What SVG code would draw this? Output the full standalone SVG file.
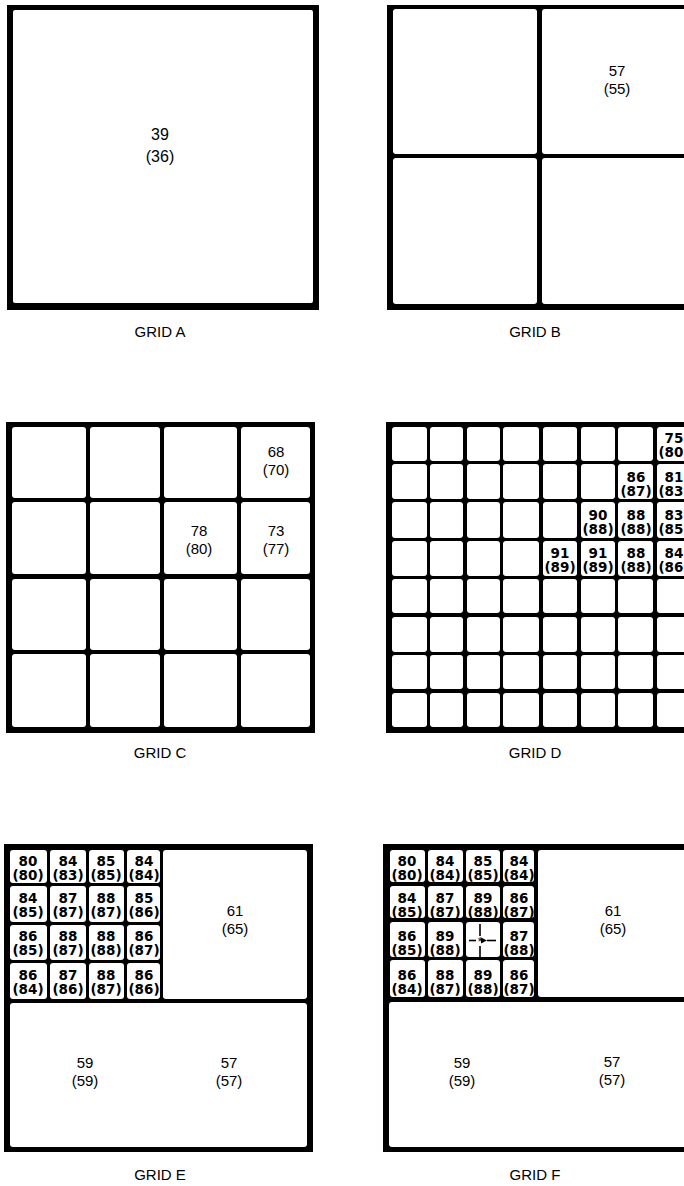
<svg xmlns="http://www.w3.org/2000/svg" width="684" height="1186" viewBox="0 0 684 1186">
<style>
.bg{fill:#000}
.c{fill:#fff}
text{fill:#000;text-anchor:middle}
.lg{font-family:"Liberation Sans",Arial,sans-serif;font-size:16px}
.md{font-family:"Liberation Sans",Arial,sans-serif;font-size:15px}
.sm{font-family:"DejaVu Sans",sans-serif;font-size:13.5px;font-weight:bold}
.lbl{font-family:"Liberation Sans",Arial,sans-serif;font-size:15px}
.ln{stroke:#000;stroke-width:1.6;fill:none}
</style>
<defs>
<marker id="ah" viewBox="0 0 6 6" refX="0" refY="3" markerWidth="4" markerHeight="4" orient="auto"><path d="M6,0 L0,3 L6,6 z" fill="#000"/></marker>
</defs>
<rect width="684" height="1186" fill="#fff"/>

<g id="gridA">
<rect class="bg" x="7" y="5" width="312" height="305"/>
<rect class="c" x="13" y="10" width="300" height="293" rx="2"/>
<text class="lg" x="160" y="140">39</text>
<text class="lg" x="160" y="162">(36)</text>
<text class="lbl" x="160" y="337">GRID A</text>
</g>

<g id="gridB">
<rect class="bg" x="387" y="5" width="310" height="305"/>
<rect class="c" x="393" y="9" width="144" height="145" rx="3"/>
<rect class="c" x="542" y="9" width="158" height="145" rx="3"/>
<rect class="c" x="393" y="158" width="144" height="146" rx="3"/>
<rect class="c" x="542" y="158" width="158" height="146" rx="3"/>
<text class="md" x="617" y="76">57</text>
<text class="md" x="617" y="94">(55)</text>
<text class="lbl" x="535" y="337">GRID B</text>
</g>

<g id="gridC">
<rect class="bg" x="6" y="422" width="309" height="311"/>
<g class="c">
<rect x="12" y="427" width="74" height="71" rx="3"/><rect x="90" y="427" width="70" height="71" rx="3"/><rect x="164" y="427" width="73" height="71" rx="3"/><rect x="241" y="427" width="69" height="71" rx="3"/>
<rect x="12" y="502" width="74" height="72" rx="3"/><rect x="90" y="502" width="70" height="72" rx="3"/><rect x="164" y="502" width="73" height="72" rx="3"/><rect x="241" y="502" width="69" height="72" rx="3"/>
<rect x="12" y="579" width="74" height="71" rx="3"/><rect x="90" y="579" width="70" height="71" rx="3"/><rect x="164" y="579" width="73" height="71" rx="3"/><rect x="241" y="579" width="69" height="71" rx="3"/>
<rect x="12" y="654" width="74" height="73" rx="3"/><rect x="90" y="654" width="70" height="73" rx="3"/><rect x="164" y="654" width="73" height="73" rx="3"/><rect x="241" y="654" width="69" height="73" rx="3"/>
</g>
<text class="md" x="276" y="457">68</text>
<text class="md" x="276" y="475">(70)</text>
<text class="md" x="199" y="536">78</text>
<text class="md" x="199" y="554">(80)</text>
<text class="md" x="276" y="536">73</text>
<text class="md" x="276" y="554">(77)</text>
<text class="lbl" x="160" y="758">GRID C</text>
</g>

<g id="gridD">
<rect class="bg" x="386" y="422" width="310" height="311"/>
<g class="c">
<rect x="392" y="427" width="35" height="34" rx="3"/><rect x="430" y="427" width="33" height="34" rx="3"/><rect x="467" y="427" width="33" height="34" rx="3"/><rect x="503" y="427" width="36" height="34" rx="3"/><rect x="543" y="427" width="34" height="34" rx="3"/><rect x="581" y="427" width="34" height="34" rx="3"/><rect x="618" y="427" width="35" height="34" rx="3"/><rect x="657" y="427" width="38" height="34" rx="3"/>
<rect x="392" y="464" width="35" height="35" rx="3"/><rect x="430" y="464" width="33" height="35" rx="3"/><rect x="467" y="464" width="33" height="35" rx="3"/><rect x="503" y="464" width="36" height="35" rx="3"/><rect x="543" y="464" width="34" height="35" rx="3"/><rect x="581" y="464" width="34" height="35" rx="3"/><rect x="618" y="464" width="35" height="35" rx="3"/><rect x="657" y="464" width="38" height="35" rx="3"/>
<rect x="392" y="502" width="35" height="36" rx="3"/><rect x="430" y="502" width="33" height="36" rx="3"/><rect x="467" y="502" width="33" height="36" rx="3"/><rect x="503" y="502" width="36" height="36" rx="3"/><rect x="543" y="502" width="34" height="36" rx="3"/><rect x="581" y="502" width="34" height="36" rx="3"/><rect x="618" y="502" width="35" height="36" rx="3"/><rect x="657" y="502" width="38" height="36" rx="3"/>
<rect x="392" y="541" width="35" height="35" rx="3"/><rect x="430" y="541" width="33" height="35" rx="3"/><rect x="467" y="541" width="33" height="35" rx="3"/><rect x="503" y="541" width="36" height="35" rx="3"/><rect x="543" y="541" width="34" height="35" rx="3"/><rect x="581" y="541" width="34" height="35" rx="3"/><rect x="618" y="541" width="35" height="35" rx="3"/><rect x="657" y="541" width="38" height="35" rx="3"/>
<rect x="392" y="579" width="35" height="34" rx="3"/><rect x="430" y="579" width="33" height="34" rx="3"/><rect x="467" y="579" width="33" height="34" rx="3"/><rect x="503" y="579" width="36" height="34" rx="3"/><rect x="543" y="579" width="34" height="34" rx="3"/><rect x="581" y="579" width="34" height="34" rx="3"/><rect x="618" y="579" width="35" height="34" rx="3"/><rect x="657" y="579" width="38" height="34" rx="3"/>
<rect x="392" y="617" width="35" height="35" rx="3"/><rect x="430" y="617" width="33" height="35" rx="3"/><rect x="467" y="617" width="33" height="35" rx="3"/><rect x="503" y="617" width="36" height="35" rx="3"/><rect x="543" y="617" width="34" height="35" rx="3"/><rect x="581" y="617" width="34" height="35" rx="3"/><rect x="618" y="617" width="35" height="35" rx="3"/><rect x="657" y="617" width="38" height="35" rx="3"/>
<rect x="392" y="655" width="35" height="34" rx="3"/><rect x="430" y="655" width="33" height="34" rx="3"/><rect x="467" y="655" width="33" height="34" rx="3"/><rect x="503" y="655" width="36" height="34" rx="3"/><rect x="543" y="655" width="34" height="34" rx="3"/><rect x="581" y="655" width="34" height="34" rx="3"/><rect x="618" y="655" width="35" height="34" rx="3"/><rect x="657" y="655" width="38" height="34" rx="3"/>
<rect x="392" y="693" width="35" height="34" rx="3"/><rect x="430" y="693" width="33" height="34" rx="3"/><rect x="467" y="693" width="33" height="34" rx="3"/><rect x="503" y="693" width="36" height="34" rx="3"/><rect x="543" y="693" width="34" height="34" rx="3"/><rect x="581" y="693" width="34" height="34" rx="3"/><rect x="618" y="693" width="35" height="34" rx="3"/><rect x="657" y="693" width="38" height="34" rx="3"/>
</g>
<g class="sm">
<text x="674" y="443">75</text><text x="674" y="457">(80)</text>
<text x="636" y="482">86</text><text x="636" y="496">(87)</text>
<text x="674" y="482">81</text><text x="674" y="496">(83)</text>
<text x="598" y="520">90</text><text x="598" y="534">(88)</text>
<text x="636" y="520">88</text><text x="636" y="534">(88)</text>
<text x="674" y="520">83</text><text x="674" y="534">(85)</text>
<text x="560" y="558">91</text><text x="560" y="572">(89)</text>
<text x="598" y="558">91</text><text x="598" y="572">(89)</text>
<text x="636" y="558">88</text><text x="636" y="572">(88)</text>
<text x="674" y="558">84</text><text x="674" y="572">(86)</text>
</g>
<text class="lbl" x="535" y="758">GRID D</text>
</g>

<g id="gridE">
<rect class="bg" x="4" y="844" width="309" height="308"/>
<g class="c">
<rect x="10" y="850" width="37" height="33" rx="3"/><rect x="50" y="850" width="36" height="33" rx="3"/><rect x="89" y="850" width="35" height="33" rx="3"/><rect x="127" y="850" width="33" height="33" rx="3"/>
<rect x="10" y="886" width="37" height="36" rx="3"/><rect x="50" y="886" width="36" height="36" rx="3"/><rect x="89" y="886" width="35" height="36" rx="3"/><rect x="127" y="886" width="33" height="36" rx="3"/>
<rect x="10" y="925" width="37" height="35" rx="3"/><rect x="50" y="925" width="36" height="35" rx="3"/><rect x="89" y="925" width="35" height="35" rx="3"/><rect x="127" y="925" width="33" height="35" rx="3"/>
<rect x="10" y="963" width="37" height="36" rx="3"/><rect x="50" y="963" width="36" height="36" rx="3"/><rect x="89" y="963" width="35" height="36" rx="3"/><rect x="127" y="963" width="33" height="36" rx="3"/>
<rect x="163" y="850" width="144" height="149" rx="3"/>
<rect x="10" y="1003" width="297" height="144" rx="3"/>
</g>
<g class="sm">
<text x="28" y="866">80</text><text x="28" y="880">(80)</text>
<text x="68" y="866">84</text><text x="68" y="880">(83)</text>
<text x="106" y="866">85</text><text x="106" y="880">(85)</text>
<text x="144" y="866">84</text><text x="144" y="880">(84)</text>
<text x="28" y="903">84</text><text x="28" y="917">(85)</text>
<text x="68" y="903">87</text><text x="68" y="917">(87)</text>
<text x="106" y="903">88</text><text x="106" y="917">(87)</text>
<text x="144" y="903">85</text><text x="144" y="917">(86)</text>
<text x="28" y="941">86</text><text x="28" y="955">(85)</text>
<text x="68" y="941">88</text><text x="68" y="955">(87)</text>
<text x="106" y="941">88</text><text x="106" y="955">(88)</text>
<text x="144" y="941">86</text><text x="144" y="955">(87)</text>
<text x="28" y="980">86</text><text x="28" y="994">(84)</text>
<text x="68" y="980">87</text><text x="68" y="994">(86)</text>
<text x="106" y="980">88</text><text x="106" y="994">(87)</text>
<text x="144" y="980">86</text><text x="144" y="994">(86)</text>
</g>
<text class="md" x="235" y="916">61</text>
<text class="md" x="235" y="934">(65)</text>
<text class="md" x="85" y="1068">59</text>
<text class="md" x="85" y="1086">(59)</text>
<text class="md" x="229" y="1068">57</text>
<text class="md" x="229" y="1086">(57)</text>
<text class="lbl" x="160" y="1180">GRID E</text>
</g>

<g id="gridF">
<rect class="bg" x="383" y="844" width="312" height="308"/>
<g class="c">
<rect x="390" y="850" width="35" height="32" rx="3"/><rect x="428" y="850" width="35" height="32" rx="3"/><rect x="466" y="850" width="34" height="32" rx="3"/><rect x="503" y="850" width="31" height="32" rx="3"/>
<rect x="390" y="886" width="35" height="32" rx="3"/><rect x="428" y="886" width="35" height="32" rx="3"/><rect x="466" y="886" width="34" height="32" rx="3"/><rect x="503" y="886" width="31" height="32" rx="3"/>
<rect x="390" y="922" width="35" height="35" rx="3"/><rect x="428" y="922" width="35" height="35" rx="3"/><rect x="466" y="922" width="34" height="35" rx="3"/><rect x="503" y="922" width="31" height="35" rx="3"/>
<rect x="390" y="960" width="35" height="37" rx="3"/><rect x="428" y="960" width="35" height="37" rx="3"/><rect x="466" y="960" width="34" height="37" rx="3"/><rect x="503" y="960" width="31" height="37" rx="3"/>
<rect x="538" y="850" width="160" height="147" rx="3"/>
<rect x="389" y="1002" width="309" height="145" rx="3"/>
</g>
<g class="sm">
<text x="407" y="866">80</text><text x="407" y="880">(80)</text>
<text x="445" y="866">84</text><text x="445" y="880">(84)</text>
<text x="483" y="866">85</text><text x="483" y="880">(85)</text>
<text x="519" y="866">84</text><text x="519" y="880">(84)</text>
<text x="407" y="903">84</text><text x="407" y="917">(85)</text>
<text x="445" y="903">87</text><text x="445" y="917">(87)</text>
<text x="483" y="903">89</text><text x="483" y="917">(88)</text>
<text x="519" y="903">86</text><text x="519" y="917">(87)</text>
<text x="407" y="941">86</text><text x="407" y="955">(85)</text>
<text x="445" y="941">89</text><text x="445" y="955">(88)</text>
<text x="519" y="941">87</text><text x="519" y="955">(88)</text>
<text x="407" y="980">86</text><text x="407" y="994">(84)</text>
<text x="445" y="980">88</text><text x="445" y="994">(87)</text>
<text x="483" y="980">89</text><text x="483" y="994">(88)</text>
<text x="519" y="980">86</text><text x="519" y="994">(87)</text>
</g>
<g id="crosshair">
<line class="ln" x1="480" y1="924" x2="480" y2="936"/>
<line class="ln" x1="480" y1="946" x2="480" y2="957"/>
<line class="ln" x1="469" y1="940.5" x2="476" y2="940.5"/>
<line class="ln" x1="496" y1="940.5" x2="487" y2="940.5" marker-end="url(#ah)"/>
<text class="lbl" x="480" y="946" style="font-size:12px">*</text>
</g>
<text class="md" x="613" y="916">61</text>
<text class="md" x="613" y="934">(65)</text>
<text class="md" x="462" y="1068">59</text>
<text class="md" x="462" y="1086">(59)</text>
<text class="md" x="612" y="1067">57</text>
<text class="md" x="612" y="1085">(57)</text>
<text class="lbl" x="535" y="1180">GRID F</text>
</g>
</svg>
